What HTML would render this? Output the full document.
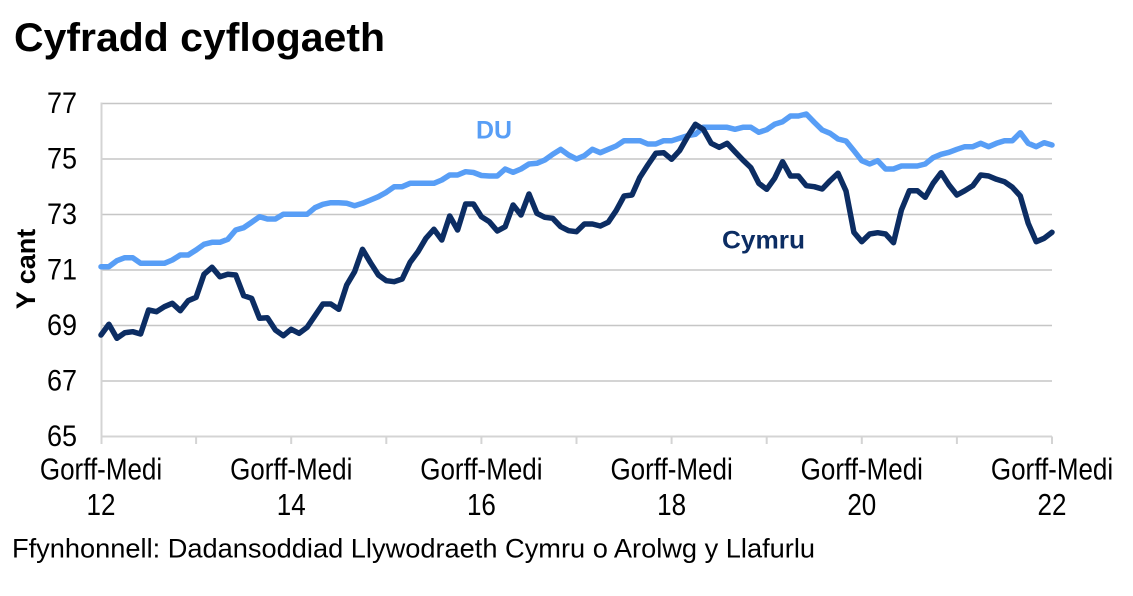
<!DOCTYPE html>
<html>
<head>
<meta charset="utf-8">
<style>
  html, body { margin: 0; padding: 0; background: #ffffff; }
  svg { display: block; }
  text { font-family: "Liberation Sans", Arial, sans-serif; }
</style>
</head>
<body>
<svg width="1133" height="596" viewBox="0 0 1133 596" xmlns="http://www.w3.org/2000/svg">
  <rect x="0" y="0" width="1133" height="596" fill="#ffffff"/>

  <!-- Title -->
  <text x="14" y="51" font-size="40" font-weight="bold" fill="#000000" textLength="371" lengthAdjust="spacingAndGlyphs">Cyfradd cyflogaeth</text>

  <!-- Gridlines -->
  <g stroke="#c6c6c6" stroke-width="1.5">
    <line x1="101" y1="103.5" x2="1052" y2="103.5"/>
    <line x1="101" y1="159" x2="1052" y2="159"/>
    <line x1="101" y1="214.5" x2="1052" y2="214.5"/>
    <line x1="101" y1="270" x2="1052" y2="270"/>
    <line x1="101" y1="325.5" x2="1052" y2="325.5"/>
    <line x1="101" y1="381" x2="1052" y2="381"/>
  </g>

  <!-- Axes -->
  <g stroke="#d4d4d4" stroke-width="2">
    <line x1="101.5" y1="102.5" x2="101.5" y2="444"/>
    <line x1="101" y1="436.5" x2="1052" y2="436.5"/>
    <line x1="196.1" y1="436.5" x2="196.1" y2="444"/>
    <line x1="291.2" y1="436.5" x2="291.2" y2="444"/>
    <line x1="386.3" y1="436.5" x2="386.3" y2="444"/>
    <line x1="481.4" y1="436.5" x2="481.4" y2="444"/>
    <line x1="576.5" y1="436.5" x2="576.5" y2="444"/>
    <line x1="671.6" y1="436.5" x2="671.6" y2="444"/>
    <line x1="766.7" y1="436.5" x2="766.7" y2="444"/>
    <line x1="861.8" y1="436.5" x2="861.8" y2="444"/>
    <line x1="956.9" y1="436.5" x2="956.9" y2="444"/>
    <line x1="1052" y1="436.5" x2="1052" y2="444"/>
  </g>

  <!-- Y tick labels -->
  <g font-size="27" fill="#000000" text-anchor="end">
    <text transform="translate(77,113) scale(1,1.08)">77</text>
    <text transform="translate(77,168.5) scale(1,1.08)">75</text>
    <text transform="translate(77,224) scale(1,1.08)">73</text>
    <text transform="translate(77,279.5) scale(1,1.08)">71</text>
    <text transform="translate(77,335) scale(1,1.08)">69</text>
    <text transform="translate(77,390.5) scale(1,1.08)">67</text>
    <text transform="translate(77,446) scale(1,1.08)">65</text>
  </g>

  <!-- Y axis title -->
  <text transform="translate(35,269) rotate(-90)" font-size="27" font-weight="bold" fill="#000000" text-anchor="middle">Y cant</text>

  <!-- X tick labels -->
  <g font-size="26" fill="#000000" text-anchor="middle">
    <text transform="translate(101,479.5) scale(1,1.18)">Gorff-Medi</text><text transform="translate(101,515) scale(1,1.18)">12</text>
    <text transform="translate(291.2,479.5) scale(1,1.18)">Gorff-Medi</text><text transform="translate(291.2,515) scale(1,1.18)">14</text>
    <text transform="translate(481.4,479.5) scale(1,1.18)">Gorff-Medi</text><text transform="translate(481.4,515) scale(1,1.18)">16</text>
    <text transform="translate(671.6,479.5) scale(1,1.18)">Gorff-Medi</text><text transform="translate(671.6,515) scale(1,1.18)">18</text>
    <text transform="translate(861.8,479.5) scale(1,1.18)">Gorff-Medi</text><text transform="translate(861.8,515) scale(1,1.18)">20</text>
    <text transform="translate(1052,479.5) scale(1,1.18)">Gorff-Medi</text><text transform="translate(1052,515) scale(1,1.18)">22</text>
  </g>

  <!-- DU series -->
  <polyline fill="none" stroke="#589ef6" stroke-width="5.5" stroke-linejoin="round" stroke-linecap="round"
    points="101,266.7 108.9,266.7 116.9,260.7 124.8,257.7 132.7,257.7 140.6,263.3 148.6,263.3 156.5,263.3 164.4,263.3 172.3,260 180.3,255 188.2,255 196.1,250 204,244.3 212,242.3 219.9,242.3 227.8,239.3 235.7,230 243.7,227.7 251.6,222.3 259.5,216.7 267.4,219 275.4,219 283.3,214.3 291.2,214.3 299.1,214.3 307.1,214.3 315,207.7 322.9,204.3 330.8,202.7 338.8,202.7 346.7,203.3 354.6,205.7 362.5,203.3 370.5,200 378.4,196.7 386.3,192.3 394.2,186.7 402.2,186.7 410.1,183.3 418,183.3 425.9,183.3 433.9,183.3 441.8,180 449.7,175 457.6,175 465.6,171.7 473.5,172.5 481.4,175.5 489.3,176 497.3,176 505.2,169 513.1,172.3 521,169 529,164 536.9,163.3 544.8,160 552.7,154.3 560.7,149.3 568.6,155 576.5,159 584.4,155.7 592.4,149.3 600.3,152.7 608.2,149.3 616.1,146 624.1,140.7 632,140.7 639.9,140.7 647.8,144 655.8,144 663.7,140.7 671.6,140.7 679.5,138.3 687.5,135.7 695.4,134.3 703.3,127.3 711.2,127.3 719.2,127.3 727.1,127.3 735,129.3 742.9,127.3 750.9,127.3 758.8,132.3 766.7,129.7 774.6,124.3 782.6,121.7 790.5,116 798.4,116 806.3,114 814.3,122.3 822.2,130 830.1,133.3 838,139 846,141 853.9,150.7 861.8,160.7 869.7,164 877.7,160.7 885.6,169 893.5,169 901.4,166 909.4,166 917.3,166 925.2,164 933.1,157.7 941.1,154.3 949,152.3 956.9,149.3 964.8,146.7 972.8,146.7 980.7,143.3 988.6,146.7 996.5,143.3 1004.5,140.7 1012.4,140.7 1020.3,132.7 1028.2,143.3 1036.2,146.7 1044.1,142.7 1052,145"/>

  <!-- Cymru series -->
  <polyline fill="none" stroke="#0c2d63" stroke-width="5.5" stroke-linejoin="round" stroke-linecap="round"
    points="101,335 108.9,324.3 116.9,338.3 124.8,332.7 132.7,331.7 140.6,334 148.6,310 156.5,311.7 164.4,306.7 172.3,303.3 180.3,310.7 188.2,300.7 196.1,297.3 204,274.3 212,267.3 219.9,276.7 227.8,274.3 235.7,275 243.7,295.7 251.6,298.3 259.5,318.3 267.4,317.7 275.4,330 283.3,335.7 291.2,329.3 299.1,333.3 307.1,327.3 315,315.7 322.9,304 330.8,304 338.8,309.3 346.7,285 354.6,271.7 362.5,249.3 370.5,262.7 378.4,275 386.3,280.7 394.2,281.7 402.2,279 410.1,262.3 418,251.7 425.9,238.3 433.9,229.3 441.8,240 449.7,216 457.6,230 465.6,204 473.5,204 481.4,216.7 489.3,221.7 497.3,231 505.2,226.7 513.1,205 521,215 529,194 536.9,213.3 544.8,217.3 552.7,218.3 560.7,226.7 568.6,230.7 576.5,231.7 584.4,224 592.4,224 600.3,226 608.2,222.3 616.1,210.7 624.1,196 632,195 639.9,177.3 647.8,165 655.8,153.3 663.7,152.7 671.6,159.3 679.5,150.7 687.5,136.7 695.4,124.3 703.3,129.3 711.2,143.3 719.2,147.3 727.1,143.3 735,151.7 742.9,160 750.9,167.7 758.8,183.3 766.7,189.3 774.6,178.3 782.6,161.7 790.5,176 798.4,176 806.3,185.7 814.3,186.7 822.2,189 830.1,180.7 838,173.3 846,191 853.9,232.3 861.8,241.7 869.7,234 877.7,232.7 885.6,234 893.5,242.7 901.4,210 909.4,190.7 917.3,190.7 925.2,197.3 933.1,183.3 941.1,172.7 949,185 956.9,195 964.8,190.7 972.8,185.7 980.7,175 988.6,176 996.5,179.3 1004.5,181.7 1012.4,187.3 1020.3,196 1028.2,223.3 1036.2,241.7 1044.1,238.3 1052,232.3"/>

  <!-- Series labels -->
  <text x="476" y="138.5" font-size="25" font-weight="bold" fill="#589ef6" textLength="36" lengthAdjust="spacingAndGlyphs">DU</text>
  <text x="722" y="248.5" font-size="25" font-weight="bold" fill="#0c2d63" textLength="83" lengthAdjust="spacingAndGlyphs">Cymru</text>

  <!-- Source -->
  <text transform="translate(12,557.5) scale(1,1.05)" font-size="26" fill="#000000" textLength="803" lengthAdjust="spacingAndGlyphs">Ffynhonnell: Dadansoddiad Llywodraeth Cymru o Arolwg y Llafurlu</text>
</svg>
</body>
</html>
